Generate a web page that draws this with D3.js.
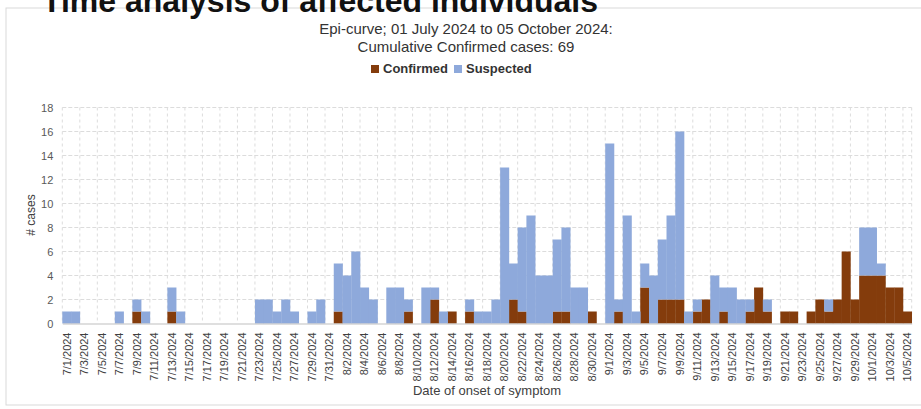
<!DOCTYPE html>
<html>
<head>
<meta charset="utf-8">
<script src="https://cdn.jsdelivr.net/npm/d3@7"></script>
<style>
html,body{margin:0;padding:0;background:#fff;}
svg{display:block;}
</style>
</head>
<body>
<svg id="chart" width="921" height="409"></svg>
<script>
const dates = [
"7/1/2024","7/2/2024","7/3/2024","7/4/2024","7/5/2024","7/6/2024","7/7/2024","7/8/2024","7/9/2024","7/10/2024",
"7/11/2024","7/12/2024","7/13/2024","7/14/2024","7/15/2024","7/16/2024","7/17/2024","7/18/2024","7/19/2024","7/20/2024",
"7/21/2024","7/22/2024","7/23/2024","7/24/2024","7/25/2024","7/26/2024","7/27/2024","7/28/2024","7/29/2024","7/30/2024",
"7/31/2024","8/1/2024","8/2/2024","8/3/2024","8/4/2024","8/5/2024","8/6/2024","8/7/2024","8/8/2024","8/9/2024",
"8/10/2024","8/11/2024","8/12/2024","8/13/2024","8/14/2024","8/15/2024","8/16/2024","8/17/2024","8/18/2024","8/19/2024",
"8/20/2024","8/21/2024","8/22/2024","8/23/2024","8/24/2024","8/25/2024","8/26/2024","8/27/2024","8/28/2024","8/29/2024",
"8/30/2024","8/31/2024","9/1/2024","9/2/2024","9/3/2024","9/4/2024","9/5/2024","9/6/2024","9/7/2024","9/8/2024",
"9/9/2024","9/10/2024","9/11/2024","9/12/2024","9/13/2024","9/14/2024","9/15/2024","9/16/2024","9/17/2024","9/18/2024",
"9/19/2024","9/20/2024","9/21/2024","9/22/2024","9/23/2024","9/24/2024","9/25/2024","9/26/2024","9/27/2024","9/28/2024",
"9/29/2024","9/30/2024","10/1/2024","10/2/2024","10/3/2024","10/4/2024","10/5/2024"
];
const confirmed = [
0,0,0,0,0,0,0,0,1,0,
0,0,1,0,0,0,0,0,0,0,
0,0,0,0,0,0,0,0,0,0,
0,1,0,0,0,0,0,0,0,1,
0,0,2,0,1,0,1,0,0,0,
0,2,1,0,0,0,1,1,0,0,
1,0,0,1,0,0,3,0,2,2,
2,0,1,2,0,1,0,0,1,3,
1,0,1,1,0,1,2,1,2,6,
2,4,4,4,3,3,1
];
const suspected = [
1,1,0,0,0,0,1,0,1,1,
0,0,2,1,0,0,0,0,0,0,
0,0,2,2,1,2,1,0,1,2,
0,4,4,6,3,2,0,3,3,1,
0,3,1,1,0,0,1,1,1,2,
13,3,7,9,4,4,6,7,3,3,
0,0,15,1,9,1,2,4,5,7,
14,1,1,0,4,2,3,2,1,0,
1,0,0,0,0,0,0,1,0,0,
0,4,4,1,0,0,0
];
const yTicks = [0,2,4,6,8,10,12,14,16,18];
const seriesNames = ["Confirmed","Suspected"];
const seriesColors = ["#843C0C","#8EA9DB"];

const svg = d3.select("#chart");
const plot = {left: 62.3, right: 911.7, top: 107.5, bottom: 323.5};

// outer frame
svg.append("rect").attr("x",6).attr("y",8).attr("width",930).attr("height",397)
  .attr("fill","#fff").attr("stroke","#d9d9d9").attr("stroke-width",1);

// page title (cut off at top, as in the source slide)
svg.append("text").attr("x",42).attr("y",12)
  .attr("font-family","Liberation Sans, Arial, sans-serif").attr("font-weight","bold")
  .attr("font-size",32).attr("fill","#111").text("Time analysis of affected individuals");

const x = d3.scaleBand().domain(dates).range([plot.left, plot.right]).padding(0);
const y = d3.scaleLinear().domain([0,18]).range([plot.bottom, plot.top]);

// gridlines horizontal
svg.append("g").selectAll("line").data(yTicks.slice(1)).join("line")
  .attr("x1",plot.left).attr("x2",plot.right)
  .attr("y1",d=>y(d)).attr("y2",d=>y(d))
  .attr("stroke","#dcdcdc").attr("stroke-width",1).attr("stroke-dasharray","4,2");
// gridlines vertical every 2 categories
svg.append("g").selectAll("line").data(dates.filter((d,i)=>i%2===0).concat(["__end"])).join("line")
  .attr("x1",d=>d==="__end"?plot.right:x(d)).attr("x2",d=>d==="__end"?plot.right:x(d))
  .attr("y1",plot.top).attr("y2",plot.bottom)
  .attr("stroke","#dcdcdc").attr("stroke-width",1).attr("stroke-dasharray","3,3");

// stacked data
const table = dates.map((d,i)=>({date:d, Confirmed:confirmed[i], Suspected:suspected[i]}));
const stack = d3.stack().keys(seriesNames)(table);
svg.append("g").selectAll("g").data(stack).join("g")
  .attr("fill",(d,i)=>seriesColors[i])
  .selectAll("rect").data(d=>d).join("rect")
  .attr("x",d=>x(d.data.date)).attr("width",x.bandwidth()+0.3)
  .attr("y",d=>y(d[1])).attr("height",d=>y(d[0])-y(d[1]));

// y axis labels
const yAxis = d3.axisLeft(y).tickValues(yTicks).tickSize(0).tickPadding(9);
const gy = svg.append("g").attr("transform",`translate(${plot.left},0)`).call(yAxis);
gy.select(".domain").remove();
gy.selectAll("text").attr("font-family","Liberation Sans, Arial, sans-serif").attr("font-size",11).attr("fill","#595959");

// x axis
const xAxis = d3.axisBottom(x).tickValues(dates.filter((d,i)=>i%2===0)).tickSize(0).tickPadding(0);
const gx = svg.append("g").attr("transform",`translate(0,${plot.bottom})`).call(xAxis);
gx.select(".domain").attr("stroke","#bfbfbf");
gx.selectAll("text").attr("font-family","Liberation Sans Narrow, Arial Narrow, sans-serif").attr("font-size",11).attr("fill","#404040")
  .attr("transform","rotate(-90)").attr("text-anchor","end").attr("dx","-9").attr("dy","0.35em").attr("y",0).attr("x",0);

// axis titles
svg.append("text").attr("transform",`translate(35,215) rotate(-90)`).attr("text-anchor","middle")
  .attr("font-family","Liberation Sans Narrow, Arial Narrow, sans-serif").attr("font-size",12).attr("fill","#404040").text("# cases");
svg.append("text").attr("x",487).attr("y",395).attr("text-anchor","middle")
  .attr("font-family","Liberation Sans Narrow, Arial Narrow, sans-serif").attr("font-size",13).attr("fill","#404040").text("Date of onset of symptom");

// chart titles
svg.append("text").attr("x",466).attr("y",34).attr("text-anchor","middle")
  .attr("font-family","Liberation Sans Narrow, Arial Narrow, sans-serif").attr("font-size",15).attr("fill","#333").text("Epi-curve; 01 July 2024 to 05 October 2024:");
svg.append("text").attr("x",466).attr("y",52).attr("text-anchor","middle")
  .attr("font-family","Liberation Sans Narrow, Arial Narrow, sans-serif").attr("font-size",15).attr("fill","#333").text("Cumulative Confirmed cases: 69");

// legend
const legendX = [371, 454];
const lg = svg.append("g").selectAll("g").data(seriesNames).join("g")
  .attr("transform",(d,i)=>`translate(${legendX[i]},64)`);
lg.append("rect").attr("width",8).attr("height",8).attr("y",1).attr("fill",(d,i)=>seriesColors[i]);
lg.append("text").attr("x",12).attr("y",9).attr("font-family","Liberation Sans Narrow, Arial Narrow, sans-serif")
  .attr("font-weight","bold").attr("font-size",13).attr("fill","#333").text(d=>d);
</script>
</body>
</html>
